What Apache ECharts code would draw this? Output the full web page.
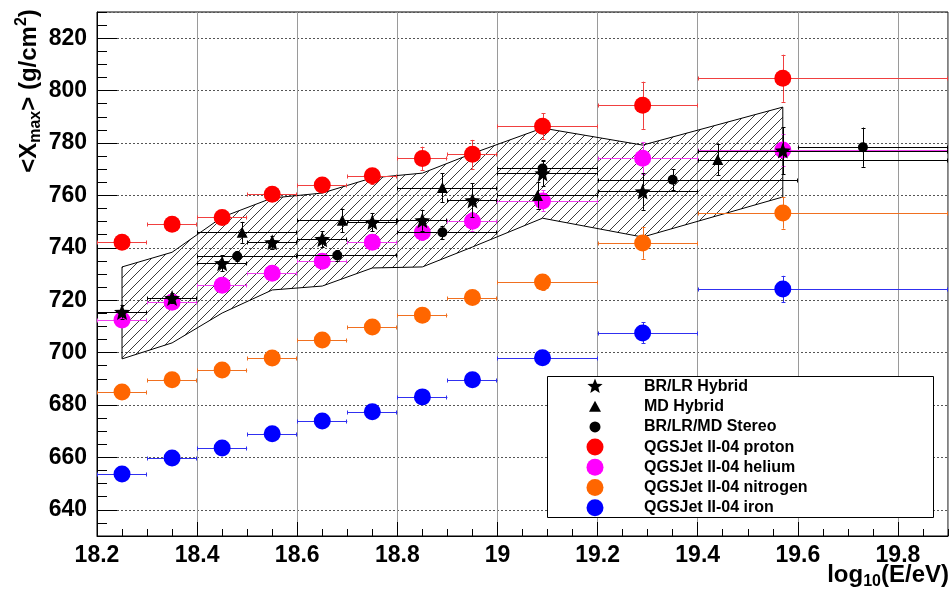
<!DOCTYPE html>
<html><head><meta charset="utf-8">
<script src="https://cdn.jsdelivr.net/npm/echarts@6.0.0/dist/echarts.min.js"></script>
<style>html,body{margin:0;padding:0;background:#fff}#c{width:952px;height:594px}</style>
</head><body><div id="c"></div>
<script>
// ---------- data ----------
const mcX   = [18.25, 18.35, 18.45, 18.55, 18.65, 18.75, 18.85, 18.95, 19.09, 19.29, 19.57];
const mcXLo = [18.2, 18.3, 18.4, 18.5, 18.6, 18.7, 18.8, 18.9, 19.0, 19.2, 19.4];
const mcXHi = [18.3, 18.4, 18.5, 18.6, 18.7, 18.8, 18.9, 19.0, 19.2, 19.4, 19.9];

const protonY   = [742.1, 749.0, 751.6, 760.4, 764.0, 767.5, 774.1, 775.7, 786.4, 794.4, 804.7];
const protonErr = [1.5, 1.5, 2, 2, 2, 3, 4.5, 5.5, 5, 9, 9];
const heliumY   = [712.4, 719.2, 725.7, 730.3, 734.9, 742.1, 745.9, 750.1, 757.9, 774.2, 777.3];
const heliumErr = [1.5, 1.5, 2, 2, 2, 2.5, 3, 3.5, 4, 6, 6];
const nitroY    = [685.0, 689.6, 693.4, 697.9, 704.8, 709.8, 714.3, 721.0, 726.9, 741.8, 753.3];
const nitroErr  = [1, 1, 1.5, 1.5, 1.5, 2, 2, 2.5, 3, 6, 6];
const ironY     = [653.7, 659.8, 663.6, 669.0, 673.9, 677.4, 683.1, 689.6, 698.0, 707.5, 724.3];
const ironErr   = [1, 1, 1, 1.5, 1.5, 1.5, 2, 2, 2.5, 4, 5];

const hybX   = [18.25, 18.35, 18.45, 18.55, 18.65, 18.75, 18.85, 18.95, 19.09, 19.29, 19.57];
const hybXLo = [18.2, 18.3, 18.4, 18.5, 18.6, 18.7, 18.8, 18.9, 19.0, 19.2, 19.4];
const hybXHi = [18.3, 18.4, 18.5, 18.6, 18.7, 18.8, 18.9, 19.0, 19.2, 19.4, 19.9];
const hybY   = [715.5, 720.8, 734.1, 742.1, 743.3, 749.8, 750.5, 758.1, 768.4, 761.5, 777.1];
const hybErr = [2.5, 2, 3, 2.5, 3, 3.5, 4, 6.5, 5, 7, 9];

const mdX   = [18.49, 18.69, 18.89, 19.08, 19.44];
const mdXLo = [18.4, 18.6, 18.8, 19.0, 19.4];
const mdXHi = [18.6, 18.8, 19.0, 19.2, 19.9];
const mdY   = [745.9, 750.5, 763.0, 760.0, 773.7];
const mdErr = [4, 4.5, 5.5, 5, 6];

const stX   = [18.48, 18.68, 18.89, 19.09, 19.35, 19.73];
const stXLo = [18.4, 18.6, 18.8, 19.0, 19.2, 19.6];
const stXHi = [18.6, 18.8, 19.0, 19.2, 19.6, 19.9];
const stY   = [736.8, 737.1, 745.9, 770.3, 766.0, 778.4];
const stErr = [2, 2, 2.5, 3, 4, 7.5];

const bandX  = [18.25, 18.35, 18.45, 18.55, 18.65, 18.75, 18.85, 18.95, 19.09, 19.29, 19.57];
const bandHi = [732.7, 738.3, 751.7, 759.0, 760.9, 766.7, 768.5, 776.0, 785.7, 779.2, 793.7];
const bandLo = [697.6, 703.7, 715.1, 723.9, 725.4, 732.3, 732.7, 740.3, 751.3, 744.1, 759.4];

const seriesNames = ['BR/LR Hybrid', 'MD Hybrid', 'BR/LR/MD Stereo',
  'QGSJet II-04 proton', 'QGSJet II-04 helium', 'QGSJet II-04 nitrogen', 'QGSJet II-04 iron'];

// ---------- style ----------
const F = "'Liberation Sans', Arial, Helvetica, sans-serif";
const STAR_PTS = [[50,0],[62.9,32.2],[97.6,34.5],[70.9,56.8],[79.4,90.5],[50,72],[20.6,90.5],[29.1,56.8],[2.4,34.5],[37.1,32.2]];
const STAR = 'M' + STAR_PTS.map(p => p[0] + ',' + p[1]).join(' L') + ' Z';
const COL = {proton:'#ff0000', helium:'#ff00ff', nitro:'#ff6600', iron:'#0000ff'};
const BARCOL = {proton:'#f04040', helium:'#f040f0', nitro:'#f07020', iron:'#3030f0'};

function hatchCanvas(){
  const c = document.createElement('canvas'); c.width = 10; c.height = 10;
  const g = c.getContext('2d');
  g.strokeStyle = '#3a3a3a'; g.lineWidth = 1;
  g.beginPath();
  g.moveTo(-1, 11); g.lineTo(11, -1);
  g.moveTo(-1, 1); g.lineTo(1, -1);
  g.moveTo(9, 11); g.lineTo(11, 9);
  g.stroke();
  return c;
}
const HATCH = hatchCanvas();

function pack(x, y, lo, hi, e){ return x.map((v, i) => [v, y[i], lo[i], hi[i], e[i]]); }
function px(v){ return Math.round(v) + 0.5; }

function errSeries(name, data, color, z){
  return {
    name: name + ' err', type: 'custom', z: z, silent: true, clip: true,
    encode: {x: 0, y: 1},
    data: data,
    renderItem: function(params, api){
      const x = api.value(0), y = api.value(1), xl = api.value(2), xh = api.value(3), e = api.value(4);
      const l = api.coord([xl, y]), r = api.coord([xh, y]);
      const t = api.coord([x, y + e]), b = api.coord([x, y - e]);
      const yy = px(l[1]), xx = px(t[0]);
      const st = {stroke: color, lineWidth: 1};
      return {type: 'group', children: [
        {type: 'line', shape: {x1: l[0], y1: yy, x2: r[0], y2: yy}, style: st},
        {type: 'line', shape: {x1: px(l[0]), y1: yy - 2, x2: px(l[0]), y2: yy + 2}, style: st},
        {type: 'line', shape: {x1: px(r[0]) - 1, y1: yy - 2, x2: px(r[0]) - 1, y2: yy + 2}, style: st},
        {type: 'line', shape: {x1: xx, y1: t[1], x2: xx, y2: b[1]}, style: st},
        {type: 'line', shape: {x1: xx - 2, y1: px(t[1]), x2: xx + 2, y2: px(t[1])}, style: st},
        {type: 'line', shape: {x1: xx - 2, y1: px(b[1]), x2: xx + 2, y2: px(b[1])}, style: st}
      ]};
    }
  };
}
function markSeries(name, x, y, symbol, size, color, z){
  return {name: name, type: 'scatter', z: z, symbol: symbol, symbolSize: size,
    itemStyle: {color: color, opacity: 1}, data: x.map((v, i) => [v, y[i]]), silent: true};
}

const series = [
  {name: 'band', type: 'custom', z: 1, silent: true, clip: true, encode: {x: 0, y: 1},
   data: [[bandX[0], bandHi[0]]],
   renderItem: function(params, api){
     const pts = [];
     for (let i = 0; i < bandX.length; i++) pts.push(api.coord([bandX[i], bandHi[i]]));
     for (let i = bandX.length - 1; i >= 0; i--) pts.push(api.coord([bandX[i], bandLo[i]]));
     return {type: 'polygon', shape: {points: pts},
       style: {fill: {image: HATCH, repeat: 'repeat'}, stroke: '#000', lineWidth: 1}};
   }},
  errSeries(seriesNames[3], pack(mcX, protonY, mcXLo, mcXHi, protonErr), BARCOL.proton, 2),
  errSeries(seriesNames[4], pack(mcX, heliumY, mcXLo, mcXHi, heliumErr), BARCOL.helium, 2),
  errSeries(seriesNames[5], pack(mcX, nitroY, mcXLo, mcXHi, nitroErr), BARCOL.nitro, 2),
  errSeries(seriesNames[6], pack(mcX, ironY, mcXLo, mcXHi, ironErr), BARCOL.iron, 2),
  markSeries(seriesNames[3], mcX, protonY, 'circle', 17, COL.proton, 3),
  markSeries(seriesNames[4], mcX, heliumY, 'circle', 17, COL.helium, 3),
  markSeries(seriesNames[5], mcX, nitroY, 'circle', 17, COL.nitro, 3),
  markSeries(seriesNames[6], mcX, ironY, 'circle', 17, COL.iron, 3),
  errSeries(seriesNames[0], pack(hybX, hybY, hybXLo, hybXHi, hybErr), '#000', 4),
  errSeries(seriesNames[1], pack(mdX, mdY, mdXLo, mdXHi, mdErr), '#000', 4),
  errSeries(seriesNames[2], pack(stX, stY, stXLo, stXHi, stErr), '#000', 4),
  markSeries(seriesNames[0], hybX, hybY, 'path://' + STAR, 16, '#000', 5),
  markSeries(seriesNames[1], mdX, mdY, 'triangle', 11, '#000', 5),
  markSeries(seriesNames[2], stX, stY, 'circle', 10, '#000', 5)
];

// ---------- legend (drawn as graphic) ----------
const legendIcons = [
  {kind: 'star', size: 16, color: '#000'},
  {kind: 'tri', size: 12, color: '#000'},
  {kind: 'circle', size: 11, color: '#000'},
  {kind: 'circle', size: 17, color: COL.proton},
  {kind: 'circle', size: 17, color: COL.helium},
  {kind: 'circle', size: 17, color: COL.nitro},
  {kind: 'circle', size: 17, color: COL.iron}
];
const LG = {x: 547, y: 376, w: 386, h: 141, iconX: 595, textX: 644, row0: 386.5, rowH: 20.2};
const graphics = [
  {type: 'rect', z: 100, shape: {x: LG.x + 0.5, y: LG.y + 0.5, width: LG.w, height: LG.h},
   style: {fill: '#fff', stroke: '#000', lineWidth: 1}}
];
legendIcons.forEach((ic, i) => {
  const cy = LG.row0 + i * LG.rowH, cx = LG.iconX, s = ic.size;
  if (ic.kind === 'star') {
    graphics.push({type: 'polygon', z: 101,
      shape: {points: STAR_PTS.map(p => [cx - s / 2 + p[0] / 100 * s, cy - s / 2 + p[1] / 100 * s])},
      style: {fill: ic.color}});
  } else if (ic.kind === 'tri') {
    graphics.push({type: 'polygon', z: 101, shape: {points: [[cx, cy - s / 2], [cx + s / 2, cy + s / 2 - 1], [cx - s / 2, cy + s / 2 - 1]]},
      style: {fill: ic.color}});
  } else {
    graphics.push({type: 'circle', z: 101, shape: {cx: cx, cy: cy, r: s / 2}, style: {fill: ic.color}});
  }
  graphics.push({type: 'text', z: 101, x: LG.textX, y: cy,
    style: {text: seriesNames[i], font: 'bold 16px ' + F, fill: '#000', verticalAlign: 'middle', align: 'left'}});
});
// axis titles
graphics.push({type: 'text', z: 101, x: 29, y: 91, rotation: Math.PI / 2,
  style: {text: '{m|<X}{s|max}{m|> (g/cm}{p|2}{m|)}', align: 'center', verticalAlign: 'middle',
    rich: {
      m: {fontSize: 24, fontWeight: 'bold', fontFamily: F, lineHeight: 30, verticalAlign: 'middle', fill: '#000'},
      s: {fontSize: 16, fontWeight: 'bold', fontFamily: F, lineHeight: 12, verticalAlign: 'bottom', fill: '#000'},
      p: {fontSize: 16, fontWeight: 'bold', fontFamily: F, lineHeight: 12, verticalAlign: 'top', fill: '#000'}
    }}});
graphics.push({type: 'text', z: 101, x: 949, y: 575,
  style: {text: '{m|log}{s|10}{m|(E/eV)}', align: 'right', verticalAlign: 'middle',
    rich: {
      m: {fontSize: 24, fontWeight: 'bold', fontFamily: F, lineHeight: 30, verticalAlign: 'middle', fill: '#000'},
      s: {fontSize: 16, fontWeight: 'bold', fontFamily: F, lineHeight: 12, verticalAlign: 'bottom', fill: '#000'}
    }}});

const labelStyle = {fontSize: 23, fontWeight: 'bold', fontFamily: F, color: '#000'};

const option = {
  animation: false,
  backgroundColor: '#fff',
  grid: {left: 97, right: 4, top: 12, bottom: 58, show: true, borderColor: '#000', borderWidth: 1, backgroundColor: 'transparent'},
  xAxis: [
    {type: 'value', min: 18.2, max: 19.9, interval: 0.2, position: 'bottom',
     axisLine: {show: true, lineStyle: {color: '#000', width: 1}},
     axisTick: {show: true, inside: true, length: 14, lineStyle: {color: '#000'}},
     axisLabel: Object.assign({showMaxLabel: false, margin: 8,
       formatter: v => String(Math.round(v * 10) / 10)}, labelStyle),
     splitLine: {show: true, lineStyle: {color: '#9a9a9a', width: 1, type: 'solid'}}},
    {type: 'value', min: 18.2, max: 19.9, interval: 0.05, position: 'bottom', offset: 0,
     axisLine: {show: false}, axisLabel: {show: false}, splitLine: {show: false},
     axisTick: {show: true, inside: true, length: 7, lineStyle: {color: '#000'}}}
  ],
  yAxis: [
    {type: 'value', min: 630, max: 830, splitNumber: 10, position: 'left',
     axisLine: {show: true, lineStyle: {color: '#000', width: 1}},
     axisTick: {show: true, inside: true, length: 20, lineStyle: {color: '#000'}},
     axisLabel: Object.assign({showMinLabel: false, showMaxLabel: false, margin: 10}, labelStyle),
     splitLine: {show: true, lineStyle: {color: '#555', width: 1, type: [2, 2]}}},
    {type: 'value', min: 630, max: 830, interval: 5, position: 'left', offset: 0,
     axisLine: {show: false}, axisLabel: {show: false}, splitLine: {show: false},
     axisTick: {show: true, inside: true, length: 10, lineStyle: {color: '#000'}}}
  ],
  series: series,
  graphic: graphics
};

const chart = echarts.init(document.getElementById('c'), null, {renderer: 'canvas'});
chart.setOption(option);
</script>
</body></html>
